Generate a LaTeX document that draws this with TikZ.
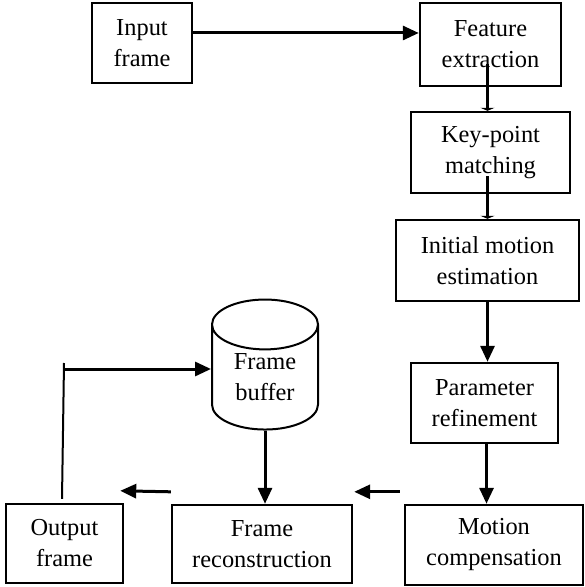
\documentclass[tikz,border=0pt]{standalone}
\usepackage{fontspec}
\setmainfont{Liberation Serif}
\usetikzlibrary{arrows.meta,shapes.geometric}
\tikzset{
  block/.style={draw, line width=1.2pt, align=center, inner sep=0pt,
    font=\fontsize{12.2}{15.5}\selectfont},
  arr/.style={-{Triangle[length=8pt,width=7pt]}, line width=1.5pt},
  flatarr/.style={-{Triangle[length=1.5pt,width=7pt]}, line width=1.3pt},
}
\begin{document}
\begin{tikzpicture}[x=0.5pt,y=-0.5pt]
    \useasboundingbox (0,0) rectangle (584,587);

    % Blocks
    \node[block, minimum width=50pt, minimum height=40pt] (inp) at (142,43) {Input\\frame};
    \node[block, minimum width=70.5pt, minimum height=41.5pt] (feat) at (490.5,44.5) {Feature\\extraction};
    \node[block, minimum width=79.5pt, minimum height=40.5pt] (match) at (490.5,152.5) {Key-point\\matching};
    \node[block, minimum width=91.5pt, minimum height=40.5pt] (init) at (487.5,260.5) {Initial motion\\estimation};
    \node[block, minimum width=73.5pt, minimum height=40pt] (refine) at (484.5,403) {Parameter\\refinement};
    \node[block, minimum width=89pt, minimum height=40pt] (comp) at (494,545) {Motion\\compensation};
    \node[block, minimum width=90pt, minimum height=39pt] (recon) at (262,544) {Frame\\reconstruction};
    \node[block, minimum width=58.5pt, minimum height=39.5pt] (out) at (64.5,543.5) {Output\\frame};

    % Buffer
    \node[block, line width=1pt, cylinder, shape border rotate=90, aspect=0.8,
      minimum width=53pt, minimum height=65pt] (buf) at (265,377.5) {Frame\\buffer};

    % Main chain
    \draw[arr] ([yshift=5pt]inp.east) -- ([yshift=5pt]inp.east -| feat.west);
    \draw[flatarr] ([shift={(-1.5pt,-10pt)}]feat.center) -- ([xshift=-1.5pt]match.north);
    \draw[flatarr] ([shift={(-1.5pt,-12pt)}]match.center) -- ([xshift=-1.5pt]match.north |- init.north);
    \draw[arr] (init.south) -- (init.south |- refine.north);
    \draw[arr] ([xshift=1pt]refine.south) -- ([xshift=1pt]refine.south |- comp.north);
    \draw[arr] (buf.south) -- (buf.south |- recon.north);

    % Loose arrows
    \draw[arr] ([shift={(-2pt,6pt)}]comp.north west) -- ([shift={(0.5pt,6pt)}]recon.north east);
    \draw[arr] ([yshift=6pt]recon.north west) -- ([shift={(-2pt,6pt)}]out.north east);

    % Feedback
    \coordinate (loop) at (64,363);
    \draw[line width=1pt] ([shift={(-1.25pt,2pt)}]out.north) -- (loop);
    \draw[arr] ([yshift=-3pt]loop) -- ([yshift=-3pt]loop -| buf.west);

\end{tikzpicture}
\end{document}
